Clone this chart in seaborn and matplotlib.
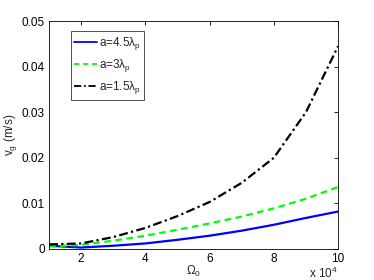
import matplotlib
matplotlib.use("Agg")
import matplotlib.pyplot as plt
import numpy as np
import pandas as pd
import seaborn as sns

# 数据 (Omega_0 单位 1e4)
omega = [1, 2, 3, 4, 5, 6, 7, 8, 9, 10]
v_45 = [0.0007, 0.0003, 0.0007, 0.0012, 0.0020, 0.0029, 0.0040, 0.0053, 0.0068, 0.0082]
v_3 = [0.0005, 0.0009, 0.0018, 0.0029, 0.0042, 0.0056, 0.0071, 0.0089, 0.0110, 0.0136]
v_15 = [0.0010, 0.0012, 0.0026, 0.0046, 0.0072, 0.0103, 0.0145, 0.0200, 0.0300, 0.0445]
labels = [r"a=4.5$\lambda_p$", r"a=3$\lambda_p$", r"a=1.5$\lambda_p$"]

df = pd.DataFrame({
    "omega": omega * 3,
    "v": v_45 + v_3 + v_15,
    "case": [labels[0]] * 10 + [labels[1]] * 10 + [labels[2]] * 10,
})

sns.set_style("white")
plt.rcParams["font.family"] = ["Liberation Sans", "DejaVu Sans"]
plt.rcParams["mathtext.fontset"] = "custom"
plt.rcParams["mathtext.rm"] = "Liberation Sans"
plt.rcParams["mathtext.it"] = "Liberation Sans"

fig = plt.figure(figsize=(3.74, 2.8), dpi=100)
ax = fig.add_axes([0.131, 0.111, 0.773, 0.814])

colors = ["#0000ff", "#00ff00", "#000000"]
dashes = [(None, None), (3, 2), (4, 1.5, 1, 1.5)]
for lab, c, d in zip(labels, colors, dashes):
    sub = df[df["case"] == lab]
    line = sns.lineplot(data=sub, x="omega", y="v", ax=ax, color=c,
                        linewidth=1.6, label=lab).lines[-1]
    if d[0] is not None:
        line.set_dashes(d)

ax.set_xlim(1, 10)
ax.set_ylim(0, 0.05)
ax.set_xticks([2, 4, 6, 8, 10])
ax.set_yticks([0, 0.01, 0.02, 0.03, 0.04, 0.05])
ax.set_yticklabels(["0", "0.01", "0.02", "0.03", "0.04", "0.05"])
ax.tick_params(direction="in", length=3, top=True, right=True, labelsize=8.5,
               width=0.6, colors="black", pad=3)
for s in ax.spines.values():
    s.set_linewidth(0.6)
    s.set_color("black")
ax.set_xlabel(r"$\Omega_0$", fontsize=8.5, labelpad=-1)
ax.set_ylabel(r"v$_g$ (m/s)", fontsize=8.5, labelpad=2)
ax.text(1.0, -0.075, r"x 10$^4$", transform=ax.transAxes, ha="right", va="top", fontsize=8.5)

leg = ax.legend(loc="upper left", bbox_to_anchor=(0.075, 0.955), fontsize=8.5,
                frameon=True, fancybox=False, edgecolor="black", handlelength=1.9,
                handletextpad=0.2, borderpad=0.3, labelspacing=0.45, borderaxespad=0)
leg.get_frame().set_linewidth(0.6)
for h in leg.get_lines():
    h.set_linewidth(1.3)

fig.savefig("out.png", dpi=100)
